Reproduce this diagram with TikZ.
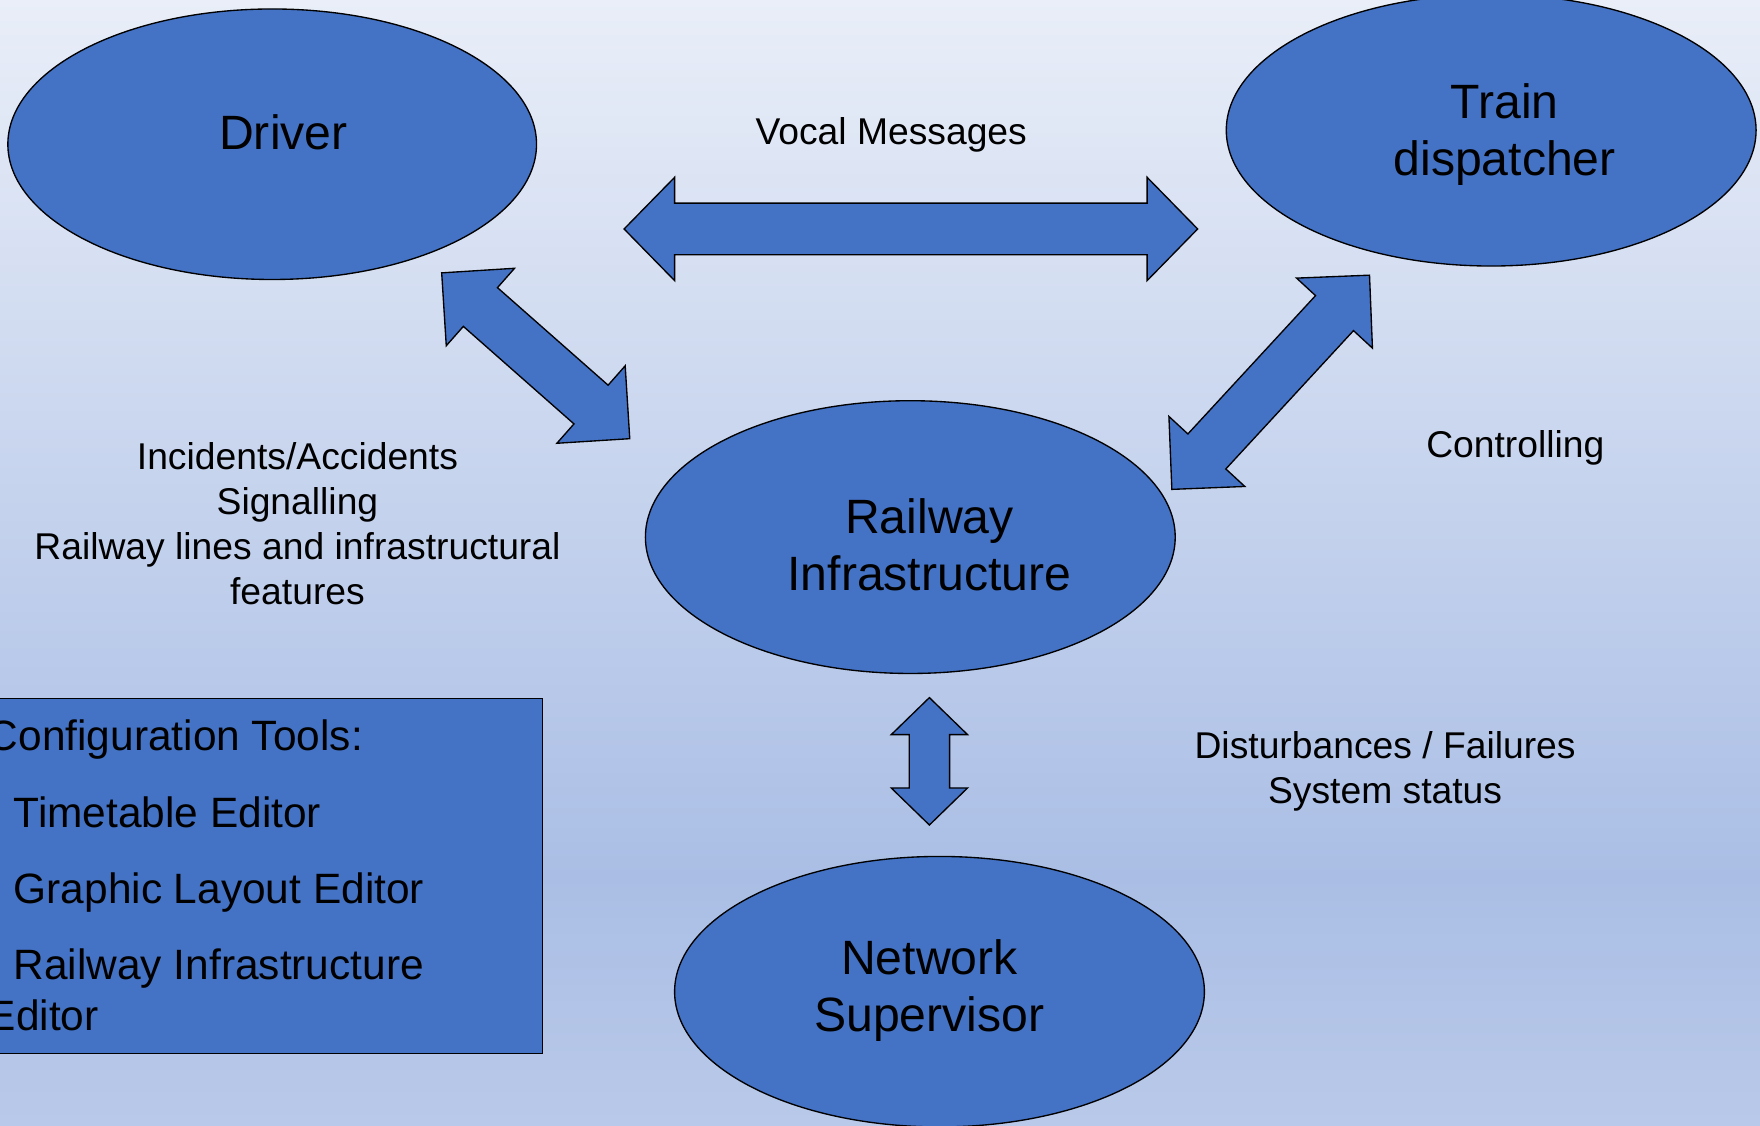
\documentclass[tikz,border=0pt]{standalone}
\usepackage{fontspec}
\setmainfont{Liberation Sans}
\usetikzlibrary{shapes.geometric}
\definecolor{nodeblue}{HTML}{4472C4}
\definecolor{bgtop}{HTML}{E9EEF8}
\definecolor{bgmid}{HTML}{AABEE5}
\definecolor{bgbot}{HTML}{B9C9E9}
% #1 start tip, #2 angle, #3 length, #4 shaft half width, #5 head half width, #6 head length
\newcommand\blockarrow[6]{%
  \begin{scope}[shift={(#1)},rotate=#2]
    \draw[arrowsty] (0,0) -- (#6,#5) -- (#6,#4) -- (#3-#6,#4) -- (#3-#6,#5) -- (#3,0)
      -- (#3-#6,-#5) -- (#3-#6,-#4) -- (#6,-#4) -- (#6,-#5) -- cycle;
  \end{scope}}
\begin{document}
\begin{tikzpicture}[x=1pt,y=-1pt,
  ell/.style={ellipse, draw=black, line width=1.2pt, fill=nodeblue, inner sep=0pt},
  arrowsty/.style={draw=black, line width=1.2pt, fill=nodeblue, line join=miter},
  bigtxt/.style={font=\fontsize{42.9}{51}\selectfont, align=center, anchor=base, inner sep=0pt},
  smalltxt/.style={font=\fontsize{33.2}{40}\selectfont, align=center, anchor=base, inner sep=0pt},
]
\useasboundingbox (0,0) rectangle (1568,1003);
\clip (0,0) rectangle (1568,1003);
\shade[top color=bgtop, bottom color=bgmid] (0,0) rectangle (1568,781);
\shade[top color=bgmid, bottom color=bgbot] (0,780) rectangle (1568,1003);

% ellipses
\node[ell, minimum width=471pt, minimum height=241pt] (driver) at (242.5,128.5) {};
\node[ell, minimum width=472pt, minimum height=242pt] (disp) at (1328.5,116) {};
\node[ell, minimum width=472pt, minimum height=243pt] (rail) at (811,478.5) {};
\node[ell, minimum width=472pt, minimum height=241pt] (net) at (837,883.5) {};

% labels in ellipses (base = baseline of the last line)
\node[bigtxt] (driverlbl) at (252.5,133) {Driver};
\node[bigtxt] (displbl) at (1340.5,156.7) {Train\\dispatcher};
\node[bigtxt] (raillbl) at (828,526.5) {Railway\\Infrastructure};
\node[bigtxt] (netlbl) at (828,919) {Network\\Supervisor};

% free labels
\node[smalltxt] (vocal) at (794,129) {Vocal Messages};
\node[smalltxt] (ctrl) at (1350,408) {Controlling};
\node[smalltxt] (incid) at (265,538.4) {Incidents/Accidents\\Signalling\\Railway lines and infrastructural\\features};
\node[smalltxt] (dist) at (1234,716) {Disturbances / Failures\\System status};

% block arrows
\blockarrow{556,204}{0}{511}{23}{46}{45}
\blockarrow{393.5,243.1}{-41.4}{223.4}{23}{46}{46}
\blockarrow{1044,436}{47.3}{259.7}{23}{46}{46}
\blockarrow{828,621.5}{-90}{113.5}{18}{34}{33}

% configuration box
\node[draw=black, line width=1.2pt, fill=nodeblue, inner sep=0pt, anchor=north west,
      minimum width=487.5pt, minimum height=316.5pt] (config) at (-5,621.5) {};
\node[anchor=base west, inner sep=0pt, align=left, font=\fontsize{37.8}{45}\selectfont] (tools) at (-11,918)
  {Configuration Tools:\\[23pt]\hspace*{23pt}Timetable Editor\\[23pt]\hspace*{23pt}Graphic Layout Editor\\[23pt]\hspace*{23pt}Railway Infrastructure\\Editor};
\end{tikzpicture}
\end{document}
